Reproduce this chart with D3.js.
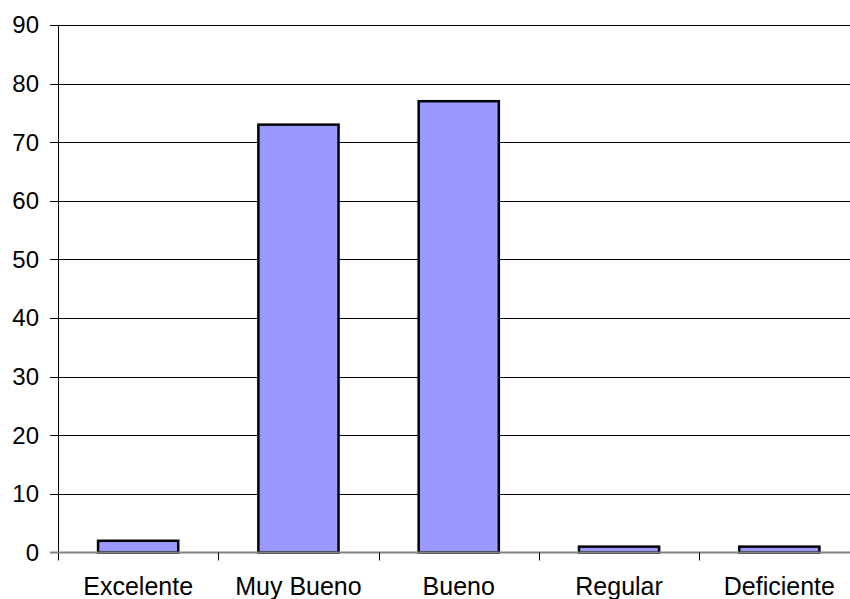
<!DOCTYPE html>
<html>
<head>
<meta charset="utf-8">
<script src="https://cdn.jsdelivr.net/npm/d3@7"></script>
<style>
  html, body { margin: 0; padding: 0; background: #fff; }
  svg { display: block; }
  text { font-family: "Liberation Sans", Arial, sans-serif; fill: #000; }
</style>
</head>
<body>
<svg id="chart" width="850" height="599"></svg>
<script>
// Ratings and their counts
const categories = ["Excelente", "Muy Bueno", "Bueno", "Regular", "Deficiente"];
const counts = [2, 73, 77, 1, 1];
const yTicks = [0, 10, 20, 30, 40, 50, 60, 70, 80, 90];

const width = 850, height = 599;
const plot = { left: 58, right: 859.5, top: 25, bottom: 552.5 };

const svg = d3.select("#chart");

const x = d3.scaleBand()
  .domain(categories)
  .range([plot.left, plot.right])
  .paddingInner(0.5)
  .paddingOuter(0.25);

const y = d3.scaleLinear()
  .domain([0, 90])
  .range([plot.bottom, plot.top]);

// Horizontal gridlines with short ticks left of the axis
svg.append("g")
  .selectAll("line")
  .data(yTicks.filter(d => d > 0))
  .join("line")
  .attr("x1", plot.left - 8)
  .attr("x2", plot.right)
  .attr("y1", d => Math.round(y(d)) + 0.5)
  .attr("y2", d => Math.round(y(d)) + 0.5)
  .attr("stroke", "#000")
  .attr("stroke-width", 1);

// Y tick labels
svg.append("g")
  .selectAll("text")
  .data(yTicks)
  .join("text")
  .attr("x", 39)
  .attr("y", d => y(d))
  .attr("dy", "0.35em")
  .attr("text-anchor", "end")
  .attr("font-size", 24)
  .text(d => d);

// Bars
svg.append("g")
  .selectAll("rect")
  .data(categories)
  .join("rect")
  .attr("x", d => x(d))
  .attr("width", x.bandwidth())
  .attr("y", (d, i) => y(counts[i]))
  .attr("height", (d, i) => y(0) - y(counts[i]))
  .attr("fill", "#9999ff")
  .attr("stroke", "#000")
  .attr("stroke-width", 2.5);

// Y axis line
svg.append("line")
  .attr("x1", plot.left + 0.5).attr("x2", plot.left + 0.5)
  .attr("y1", plot.top).attr("y2", plot.bottom + 8)
  .attr("stroke", "#000").attr("stroke-width", 1);

// X axis baseline
svg.append("line")
  .attr("x1", plot.left - 8).attr("x2", plot.right)
  .attr("y1", y(0)).attr("y2", y(0))
  .attr("stroke", "#808080").attr("stroke-width", 2);

// Category separator ticks
const step = x.step();
svg.append("g")
  .selectAll("line")
  .data(d3.range(1, categories.length))
  .join("line")
  .attr("x1", i => Math.round(plot.left + i * step) + 0.5)
  .attr("x2", i => Math.round(plot.left + i * step) + 0.5)
  .attr("y1", y(0))
  .attr("y2", y(0) + 8)
  .attr("stroke", "#000")
  .attr("stroke-width", 1);

// Category labels
svg.append("g")
  .selectAll("text")
  .data(categories)
  .join("text")
  .attr("x", d => x(d) + x.bandwidth() / 2)
  .attr("y", 595)
  .attr("text-anchor", "middle")
  .attr("font-size", 25)
  .text(d => d);
</script>
</body>
</html>
